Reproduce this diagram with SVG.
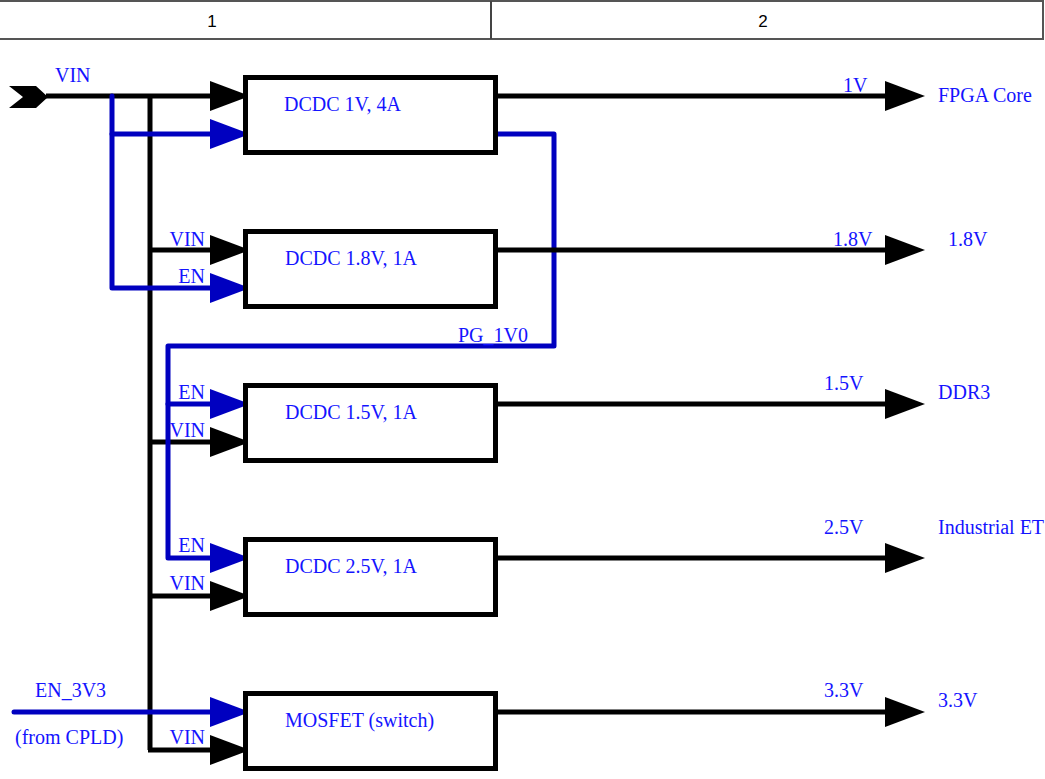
<svg xmlns="http://www.w3.org/2000/svg" xmlns:xlink="http://www.w3.org/1999/xlink" width="1045" height="779" viewBox="0 0 1045 779">
<style>
.hdr{fill:#fff;stroke:#555;stroke-width:2}
.hdrt{font-family:"Liberation Sans",Arial,sans-serif;font-size:17px;fill:#000;text-anchor:middle}
.box{fill:#fff;stroke:#000;stroke-width:5}
.t{font-family:"Liberation Serif","Times New Roman",serif;font-size:20px;fill:#1414ff}
.end{text-anchor:end}
.pw{fill:none;stroke:#000;stroke-width:5}
.sg{fill:none;stroke:#0000c0;stroke-width:5;stroke-linejoin:round;stroke-linecap:round}
.ab{fill:#000}
.au{fill:#0000c0}
</style>
<defs>
<path id="ah" d="M0,-15 L40,0 L0,15 Z"/>
</defs>
<rect width="1045" height="779" fill="#fff"/>
<g id="header">
<rect class="hdr" x="-1" y="1" width="1044" height="38"/>
<line x1="491" y1="1" x2="491" y2="39" stroke="#444" stroke-width="2"/>
<text class="hdrt" x="212" y="27">1</text>
<text class="hdrt" x="763" y="27">2</text>
</g>
<g id="connectors">
<!-- black power -->
<line class="pw" x1="46" y1="96" x2="215" y2="96"/>
<line class="pw" x1="150" y1="96" x2="150" y2="750"/>
<line class="pw" x1="150" y1="250" x2="215" y2="250"/>
<line class="pw" x1="150" y1="442" x2="215" y2="442"/>
<line class="pw" x1="150" y1="596" x2="215" y2="596"/>
<line class="pw" x1="148" y1="750" x2="215" y2="750"/>
<!-- blue enable -->
<polyline class="sg" points="215,134 112,134"/>
<polyline class="sg" points="112,96 112,288 215,288"/>
<polyline class="sg" points="498,134 554,134 554,346 168,346 168,558 215,558"/>
<line class="sg" x1="168" y1="404" x2="215" y2="404"/>
<line class="sg" x1="14" y1="712" x2="215" y2="712"/>
<!-- outputs -->
<line class="pw" x1="498" y1="96" x2="890" y2="96"/>
<line class="pw" x1="498" y1="250" x2="890" y2="250"/>
<line class="pw" x1="498" y1="404" x2="890" y2="404"/>
<line class="pw" x1="498" y1="558" x2="890" y2="558"/>
<line class="pw" x1="498" y1="712" x2="890" y2="712"/>
<!-- input arrowheads -->
<use xlink:href="#ah" class="ab" x="210" y="96"/>
<use xlink:href="#ah" class="au" x="210" y="134"/>
<use xlink:href="#ah" class="ab" x="210" y="250"/>
<use xlink:href="#ah" class="au" x="210" y="288"/>
<use xlink:href="#ah" class="au" x="210" y="404"/>
<use xlink:href="#ah" class="ab" x="210" y="442"/>
<use xlink:href="#ah" class="au" x="210" y="558"/>
<use xlink:href="#ah" class="ab" x="210" y="596"/>
<use xlink:href="#ah" class="au" x="210" y="712"/>
<use xlink:href="#ah" class="ab" x="210" y="750"/>
<!-- output arrowheads -->
<use xlink:href="#ah" class="ab" x="885" y="96"/>
<use xlink:href="#ah" class="ab" x="885" y="250"/>
<use xlink:href="#ah" class="ab" x="885" y="404"/>
<use xlink:href="#ah" class="ab" x="885" y="558"/>
<use xlink:href="#ah" class="ab" x="885" y="712"/>
<!-- labels -->
<text class="t" x="55" y="82">VIN</text>
<text class="t end" x="205" y="246">VIN</text>
<text class="t end" x="205" y="283">EN</text>
<text class="t" x="458" y="342">PG_1V0</text>
<text class="t end" x="205" y="399">EN</text>
<text class="t end" x="205" y="437">VIN</text>
<text class="t end" x="205" y="552">EN</text>
<text class="t end" x="205" y="590">VIN</text>
<text class="t end" x="205" y="744">VIN</text>
<text class="t" x="35" y="697">EN_3V3</text>
<text class="t" x="15" y="744">(from CPLD)</text>
<text class="t" x="843" y="92">1V</text>
<text class="t" x="833" y="246">1.8V</text>
<text class="t" x="824" y="390">1.5V</text>
<text class="t" x="824" y="534">2.5V</text>
<text class="t" x="824" y="697">3.3V</text>
</g>
<g id="vin-source">
<polygon points="9,86 36,86 48,97 36,108 9,108 23,97" fill="#000"/>
</g>
<g id="dcdc-1v0">
<rect class="box" x="245.5" y="77.5" width="250" height="75"/>
<text class="t" x="284" y="111">DCDC 1V, 4A</text>
</g>
<g id="dcdc-1v8">
<rect class="box" x="245.5" y="231.5" width="250" height="75"/>
<text class="t" x="285" y="265">DCDC 1.8V, 1A</text>
</g>
<g id="dcdc-1v5">
<rect class="box" x="245.5" y="385.5" width="250" height="75"/>
<text class="t" x="285" y="419">DCDC 1.5V, 1A</text>
</g>
<g id="dcdc-2v5">
<rect class="box" x="245.5" y="539.5" width="250" height="75"/>
<text class="t" x="285" y="573">DCDC 2.5V, 1A</text>
</g>
<g id="mosfet">
<rect class="box" x="245.5" y="693.5" width="250" height="75"/>
<text class="t" x="285" y="727">MOSFET (switch)</text>
</g>
<g id="loads">
<text class="t" x="938" y="102">FPGA Core</text>
<text class="t" x="948" y="246">1.8V</text>
<text class="t" x="938" y="399">DDR3</text>
<text class="t" x="938" y="534">Industrial ET</text>
<text class="t" x="938" y="707">3.3V</text>
</g>
</svg>
